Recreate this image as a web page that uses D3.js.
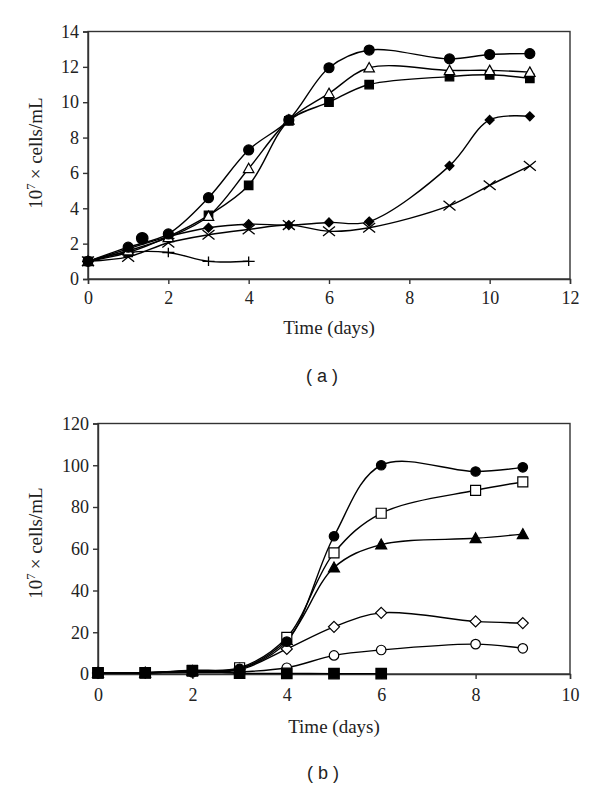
<!DOCTYPE html>
<html><head><meta charset="utf-8">
<script src="https://cdn.jsdelivr.net/npm/d3@7"></script>
<style>body{margin:0;background:#fff}svg{display:block}</style>
</head><body>
<script>
// ---------- Panel (a) data ----------
const daysA = [0, 1, 2, 3, 4, 5, 6, 7, 9, 10, 11];
const aCircle   = [1.0, 1.8, 2.55, 4.6, 7.3, 9.0, 11.95, 12.95, 12.45, 12.7, 12.75];
const aTriangle = [1.0, 1.6, 2.35, 3.55, 6.25, 9.0, 10.5, 11.95, 11.8, 11.8, 11.7];
const aSquare   = [1.0, 1.5, 2.4, 3.6, 5.3, 8.95, 10.0, 11.0, 11.45, 11.55, 11.35];
const aDiamond  = [1.0, 1.7, 2.4, 2.9, 3.1, 3.05, 3.2, 3.25, 6.4, 9.0, 9.2];
const aCross    = [1.0, 1.25, 2.05, 2.5, 2.8, 3.05, 2.7, 2.9, 4.15, 5.3, 6.4];
const daysPlus  = [0, 1, 2, 3, 4];
const aPlus     = [1.0, 1.5, 1.5, 1.0, 1.0];
const aExtraDay = [1.35];
const aExtraVal = [2.3];
const aXTicks = [0, 2, 4, 6, 8, 10, 12];
const aYTicks = [0, 2, 4, 6, 8, 10, 12, 14];

// ---------- Panel (b) data ----------
const daysB = [0, 1, 2, 3, 4, 5, 6, 8, 9];
const bCircle     = [0.5, 0.6, 1.5, 2.5, 15.5, 66, 100, 97, 99];
const bOpenSquare = [0.5, 0.6, 1.8, 3.0, 17.5, 58, 77, 88, 92];
const bTriangle   = [0.5, 0.6, 1.5, 2.5, 16.3, 51, 62, 65, 67];
const bDiamond    = [0.5, 0.6, 1.2, 2.0, 12, 22.6, 29.3, 25.2, 24.4];
const bOpenCircle = [0.5, 0.6, 0.8, 1.0, 3.0, 8.9, 11.5, 14.3, 12.3];
const daysBSq = [0, 1, 2, 3, 4, 5, 6];
const bSquare = [0.5, 0.5, 1.5, 0.4, 0.3, 0.2, 0.2];
const bXTicks = [0, 2, 4, 6, 8, 10];
const bYTicks = [0, 20, 40, 60, 80, 100, 120];

const svg = d3.select("body").append("svg").attr("width", 600).attr("height", 790);
const serif = "'Liberation Serif','Times New Roman',serif";

function shapePath(kind, x, y, s) {
  const h = s / 2;
  switch (kind) {
    case "square": return `M${x-h},${y-h}H${x+h}V${y+h}H${x-h}Z`;
    case "diamond": return `M${x},${y-h}L${x+h},${y}L${x},${y+h}L${x-h},${y}Z`;
    case "triangle": return `M${x},${y-h}L${x+h},${y+h*0.8}L${x-h},${y+h*0.8}Z`;
    case "cross": return `M${x-h},${y-h*0.8}L${x+h},${y+h*0.8}M${x-h},${y+h*0.8}L${x+h},${y-h*0.8}`;
    case "plus": return `M${x-h},${y}L${x+h},${y}M${x},${y-h*0.8}L${x},${y+h*0.8}`;
  }
}

function marker(g, type, x, y, s) {
  const open = type.startsWith("open");
  const kind = open ? type.slice(4) : type;
  if (kind === "circle") {
    g.append("circle").attr("cx", x).attr("cy", y).attr("r", s / 2)
      .attr("fill", open ? "#fff" : "#000").attr("stroke", "#000").attr("stroke-width", 1.2);
    return;
  }
  const line = kind === "cross" || kind === "plus";
  g.append("path").attr("d", shapePath(kind, x, y, s))
    .attr("fill", line ? "none" : (open ? "#fff" : "#000"))
    .attr("stroke", "#000").attr("stroke-width", line ? 1.3 : 1.2);
}

function panel(cfg) {
  const x = d3.scaleLinear().domain(cfg.xDomain).range([cfg.left, cfg.right]);
  const y = d3.scaleLinear().domain(cfg.yDomain).range([cfg.bottom, cfg.top]);
  const g = svg.append("g");
  g.append("rect").attr("x", cfg.left).attr("y", cfg.top)
    .attr("width", cfg.right - cfg.left).attr("height", cfg.bottom - cfg.top)
    .attr("fill", "none").attr("stroke", "#333").attr("stroke-width", 1.4);
  const xa = g.append("g").attr("transform", `translate(0,${cfg.bottom})`)
    .call(d3.axisBottom(x).tickValues(cfg.xTicks).tickSize(5).tickPadding(cfg.xPad).tickFormat(d3.format("d")));
  const ya = g.append("g").attr("transform", `translate(${cfg.left},0)`)
    .call(d3.axisLeft(y).tickValues(cfg.yTicks).tickSize(5).tickPadding(4).tickFormat(d3.format("d")));
  [xa, ya].forEach(a => {
    a.select(".domain").attr("stroke", "#333").attr("stroke-width", 1.4);
    a.selectAll(".tick line").attr("stroke", "#333").attr("stroke-width", 1.4);
    a.selectAll("text").attr("font-family", serif).attr("font-size", 18).attr("fill", "#222");
  });
  const line = d3.line().x(d => x(d[0])).y(d => y(d[1])).curve(d3.curveCatmullRom.alpha(0.5));
  cfg.series.forEach(s => {
    const pts = s.days.map((d, i) => [d, s.vals[i]]);
    if (s.line !== false)
      g.append("path").attr("d", line(pts)).attr("fill", "none").attr("stroke", "#000").attr("stroke-width", 1.4);
  });
  cfg.series.forEach(s => {
    s.days.forEach((d, i) => marker(g, s.type, x(d), y(s.vals[i]), s.size));
  });
  g.append("text").attr("x", (cfg.left + cfg.right) / 2).attr("y", cfg.xTitleY)
    .attr("text-anchor", "middle").attr("font-family", serif).attr("font-size", 19).attr("fill", "#222")
    .text("Time (days)");
  const yl = g.append("text").attr("transform", `translate(${cfg.yTitleX},${cfg.yTitleCY}) rotate(-90)`)
    .attr("text-anchor", "middle").attr("font-family", serif).attr("font-size", 19).attr("fill", "#222");
  yl.append("tspan").text("10");
  yl.append("tspan").attr("font-size", 13).attr("dy", -7).text("7");
  yl.append("tspan").attr("dy", 7).text("\u2009\u00d7 cells/mL");
  svg.append("text").attr("x", cfg.capX).attr("y", cfg.capY).attr("text-anchor", "middle")
    .attr("font-family", "'Liberation Sans',Arial,sans-serif").attr("font-size", 18).attr("fill", "#222")
    .attr("xml:space", "preserve").text(cfg.caption);
}

panel({
  left: 88, right: 570, top: 31.5, bottom: 279,
  xDomain: [0, 12], yDomain: [0, 14], xTicks: aXTicks, yTicks: aYTicks, xPad: 7,
  xTitleY: 334, yTitleX: 42, yTitleCY: 153, capX: 322, capY: 382, caption: "( a )",
  series: [
    { days: daysPlus, vals: aPlus, type: "plus", size: 12 },
    { days: daysA, vals: aCross, type: "cross", size: 12 },
    { days: daysA, vals: aDiamond, type: "diamond", size: 9 },
    { days: daysA, vals: aSquare, type: "square", size: 8.5 },
    { days: daysA, vals: aTriangle, type: "opentriangle", size: 10.5 },
    { days: daysA, vals: aCircle, type: "circle", size: 10 },
    { days: aExtraDay, vals: aExtraVal, type: "circle", size: 11.5, line: false }
  ]
});

panel({
  left: 98, right: 570, top: 423.5, bottom: 674,
  xDomain: [0, 10], yDomain: [0, 120], xTicks: bXTicks, yTicks: bYTicks, xPad: 9,
  xTitleY: 733, yTitleX: 42, yTitleCY: 543, capX: 323, capY: 779, caption: "( b )",
  series: [
    { days: daysB, vals: bOpenCircle, type: "opencircle", size: 9.5 },
    { days: daysB, vals: bDiamond, type: "opendiamond", size: 11 },
    { days: daysB, vals: bTriangle, type: "triangle", size: 11 },
    { days: daysB, vals: bOpenSquare, type: "opensquare", size: 10 },
    { days: daysB, vals: bCircle, type: "circle", size: 9.5 },
    { days: daysBSq, vals: bSquare, type: "square", size: 10.5 }
  ]
});
</script>
</body></html>
